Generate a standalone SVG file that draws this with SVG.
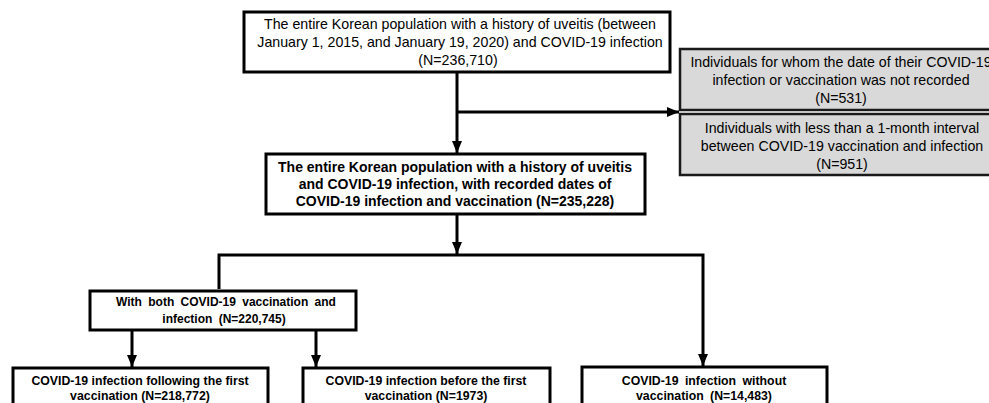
<svg xmlns="http://www.w3.org/2000/svg" width="989" height="403" viewBox="0 0 989 403">
<style>
.box{fill:#fff;stroke:#000;stroke-width:3}
.gbox{fill:#d9d9d9;stroke:#1a1a1a;stroke-width:2.5}
.t{font-family:"Liberation Sans",Arial,sans-serif;font-size:14.2px;fill:#000;text-anchor:middle}
.b{font-family:"Liberation Sans",Arial,sans-serif;font-weight:bold;fill:#000;text-anchor:middle}
.c{fill:none;stroke:#000;stroke-width:3}
</style>
<defs>
<marker id="ah" markerUnits="userSpaceOnUse" markerWidth="12" markerHeight="12" viewBox="0 0 12 12" refX="12" refY="6" orient="auto">
<path d="M0,1 L12,6 L0,11 Z" fill="#000"/>
</marker>
</defs>
<g id="connectors">
<line class="c" x1="457" y1="72" x2="457" y2="153" marker-end="url(#ah)"/>
<line class="c" x1="457" y1="112" x2="679" y2="112" marker-end="url(#ah)"/>
<line class="c" x1="457" y1="214" x2="457" y2="254" marker-end="url(#ah)"/>
<polyline class="c" points="219,289 219,255 703,255 703,366" marker-end="url(#ah)"/>
<line class="c" x1="132" y1="330" x2="132" y2="367" marker-end="url(#ah)"/>
<line class="c" x1="316" y1="330" x2="316" y2="367" marker-end="url(#ah)"/>
</g>
<g id="n1">
<rect class="box" x="244" y="12" width="426" height="60"/>
<text class="t" x="460" y="29">The entire Korean population with a history of uveitis (between</text>
<text class="t" x="460" y="47">January 1, 2015, and January 19, 2020) and COVID-19 infection</text>
<text class="t" x="458" y="65">(N=236,710)</text>
</g>
<g id="n2">
<rect class="gbox" x="680" y="49" width="320" height="61"/>
<text class="t" x="841" y="67">Individuals for whom the date of their COVID-19</text>
<text class="t" x="841" y="85">infection or vaccination was not recorded</text>
<text class="t" x="841" y="103">(N=531)</text>
</g>
<g id="n3">
<rect class="gbox" x="680" y="114" width="320" height="61"/>
<text class="t" x="842" y="133">Individuals with less than a 1-month interval</text>
<text class="t" x="842" y="151">between COVID-19 vaccination and infection</text>
<text class="t" x="842" y="169">(N=951)</text>
</g>
<g id="n4">
<rect class="box" x="266" y="154" width="379" height="60"/>
<text class="b" x="455" y="172" font-size="14">The entire Korean population with a history of uveitis</text>
<text class="b" x="455" y="189" font-size="14">and COVID-19 infection, with recorded dates of</text>
<text class="b" x="455" y="206" font-size="14">COVID-19 infection and vaccination (N=235,228)</text>
</g>
<g id="n5">
<rect class="box" x="90" y="291" width="266" height="39"/>
<text class="b" x="226" y="306" font-size="12" word-spacing="3">With both COVID-19 vaccination and</text>
<text class="b" x="224" y="323" font-size="12" word-spacing="3">infection (N=220,745)</text>
</g>
<g id="n6">
<rect class="box" x="13" y="368" width="255" height="50"/>
<text class="b" x="140" y="385" font-size="12.3">COVID-19 infection following the first</text>
<text class="b" x="140" y="400" font-size="12.3">vaccination (N=218,772)</text>
</g>
<g id="n7">
<rect class="box" x="303" y="368" width="247" height="50"/>
<text class="b" x="426" y="385" font-size="12.3">COVID-19 infection before the first</text>
<text class="b" x="426" y="400" font-size="12.3">vaccination (N=1973)</text>
</g>
<g id="n8">
<rect class="box" x="582" y="367" width="245" height="50"/>
<text class="b" x="704" y="385" font-size="12.3" word-spacing="3">COVID-19 infection without</text>
<text class="b" x="704" y="400" font-size="12.3" word-spacing="3">vaccination (N=14,483)</text>
</g>
</svg>
